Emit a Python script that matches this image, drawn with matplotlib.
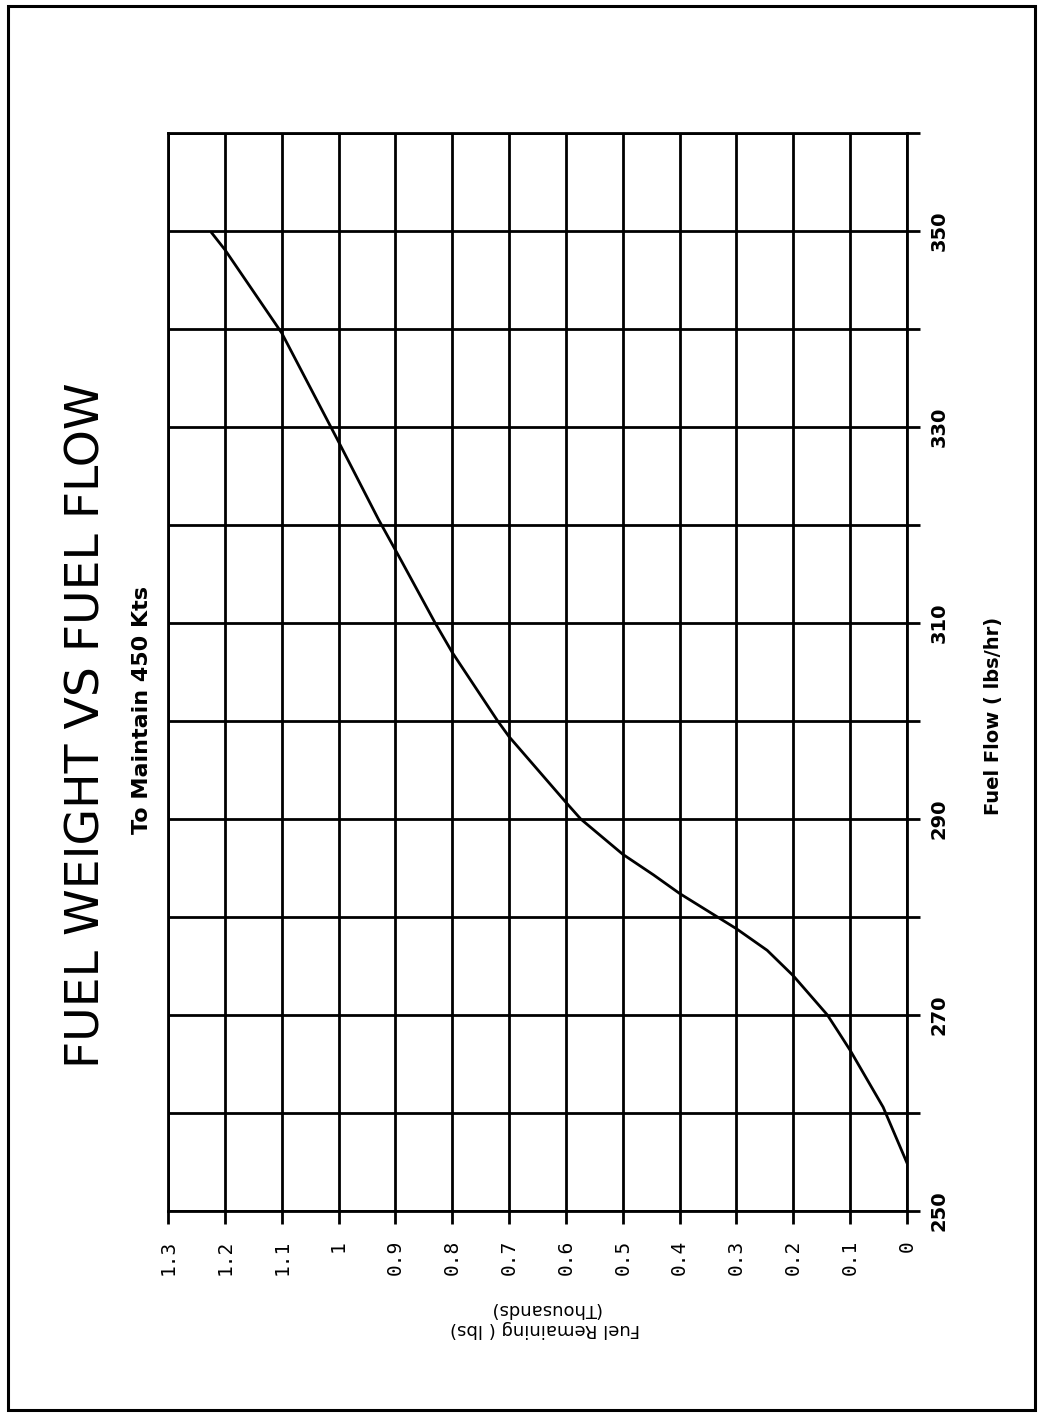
import matplotlib
matplotlib.use("Agg")
import matplotlib.pyplot as plt
from matplotlib.patches import Rectangle

# Fuel remaining (thousands of lbs) vs fuel flow (lbs/hr)
fuel_remaining = [0.0, 0.042, 0.1, 0.121, 0.14, 0.2, 0.246, 0.3, 0.4, 0.446,
                  0.5, 0.574, 0.6, 0.7, 0.72, 0.8, 0.83, 0.89, 0.93, 1.0, 1.1,
                  1.2, 1.223]
fuel_flow = [254.9, 260.6, 266.4, 268.3, 270.0, 274.0, 276.6, 278.8, 282.4, 284.3,
             286.4, 290.0, 291.7, 298.4, 300.0, 307.0, 310.0, 316.4, 320.6, 328.5, 339.6,
             348.1, 349.8]

flow_ticks = list(range(250, 361, 10))
flow_labels = ['250', '', '270', '', '290', '', '310', '', '330', '', '350', '']
remaining_ticks = [0, 0.1, 0.2, 0.3, 0.4, 0.5, 0.6, 0.7, 0.8, 0.9, 1.0, 1.1, 1.2, 1.3]
remaining_labels = ['0', '0.1', '0.2', '0.3', '0.4', '0.5', '0.6', '0.7', '0.8', '0.9',
                    '1', '1.1', '1.2', '1.3']

W, H = 1042, 1416
fig = plt.figure(figsize=(W / 100, H / 100), dpi=100)
ax = fig.add_axes([168 / W, 1 - 1211 / H, 739 / W, 1078 / H])

# chart is drawn turned a quarter turn: flow runs up, remaining runs right-to-left
ax.plot(fuel_remaining, fuel_flow, color='black', linewidth=2.0)
ax.set_xlim(1.3, 0)
ax.set_ylim(250, 360)

ax.set_xticks(remaining_ticks)
ax.set_xticklabels(remaining_labels, rotation=90, family='DejaVu Sans Mono', fontsize=14)
ax.set_yticks(flow_ticks)
ax.set_yticklabels(flow_labels, rotation=90, fontsize=14, fontweight='bold')
ax.yaxis.tick_right()
ax.tick_params(axis='both', direction='out', length=9, width=2, color='black')
ax.tick_params(axis='x', pad=12)
ax.tick_params(axis='y', pad=7)
for lbl in ax.get_yticklabels():
    lbl.set_va('center')

ax.grid(True, color='black', linewidth=2)
for s in ax.spines.values():
    s.set_linewidth(2)

ax.set_xlabel("Fuel Remaining ( lbs)\n(Thousands)", rotation=180, fontsize=13,
              linespacing=1.1)
ax.xaxis.set_label_coords((545 - 168) / 739, -0.1)
ax.xaxis.label.set_va('center')

ax.yaxis.set_label_position('right')
ax.set_ylabel("Fuel Flow ( lbs/hr)", rotation=90, fontsize=14, fontweight='bold')
ax.yaxis.set_label_coords((993 - 168) / 739, (1211 - 716) / 1078)
ax.yaxis.label.set_ha('center')
ax.yaxis.label.set_va('center')

fig.text(87 / W, 1 - 725 / H, "FUEL WEIGHT VS FUEL FLOW", rotation=90,
         ha='center', va='center', fontsize=34)
fig.text(142 / W, 1 - 710 / H, "To Maintain 450 Kts", rotation=90,
         ha='center', va='center', fontsize=16, fontweight='bold')

# outer frame around the page
fig.add_artist(Rectangle((8 / W, 1 - 1410 / H), (1035 - 8) / W, (1410 - 6) / H,
                         transform=fig.transFigure, fill=False,
                         edgecolor='black', linewidth=2.2))

fig.savefig('out.png', dpi=100, facecolor='white')
